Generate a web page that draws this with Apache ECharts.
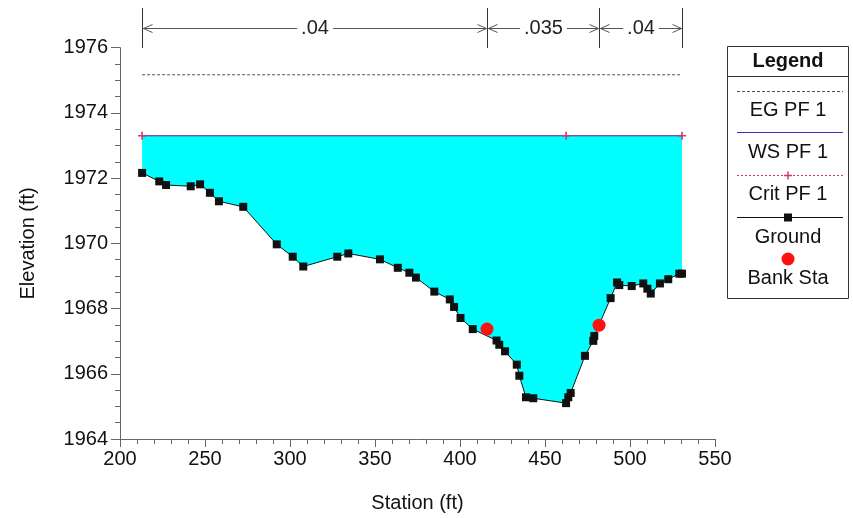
<!DOCTYPE html>
<html><head><meta charset="utf-8">
<script src="https://cdn.jsdelivr.net/npm/echarts@6/dist/echarts.min.js"></script>
<style>html,body{margin:0;padding:0;background:#fff}#c{width:853px;height:518px}</style>
</head><body><div id="c"></div>
<script>
// ---- data ----
const groundStation = [213.0, 223.1, 227.1, 241.6, 247.1, 252.9, 258.2, 272.5, 292.2, 301.6, 307.8, 327.8, 334.3, 352.9, 363.4, 370.2, 374.1, 384.9, 394.0, 396.5, 400.3, 407.5, 421.5, 423.1, 426.5, 433.4, 434.9, 438.8, 443.1, 462.4, 463.7, 465.1, 473.5, 478.4, 479.0, 488.6, 492.4, 493.7, 501.0, 507.8, 510.2, 512.2, 517.6, 522.5, 529.0, 530.6];
const groundElev = [1972.16, 1971.90, 1971.79, 1971.75, 1971.81, 1971.55, 1971.29, 1971.12, 1969.97, 1969.59, 1969.29, 1969.59, 1969.69, 1969.51, 1969.25, 1969.10, 1968.95, 1968.52, 1968.28, 1968.05, 1967.71, 1967.37, 1967.02, 1966.89, 1966.69, 1966.28, 1965.94, 1965.28, 1965.25, 1965.10, 1965.28, 1965.41, 1966.55, 1967.01, 1967.16, 1968.32, 1968.80, 1968.72, 1968.69, 1968.77, 1968.61, 1968.46, 1968.77, 1968.90, 1969.07, 1969.07];
const bankStation = [415.9, 481.8];
const bankElev = [1967.37, 1967.49];
const egStation = [213.0, 530.6];
const egElev = [1975.17, 1975.17];
const wsStation = [213.0, 530.6];
const wsElev = [1973.30, 1973.30];
const critStation = [213.0, 462.4, 530.6];
const critElev = [1973.30, 1973.30, 1973.30];
const nStations = [213.0, 415.9, 481.8, 530.6];
const nValues = ['.04', '.035', '.04'];
const xMin = 200, xMax = 550, xStep = 50;
const yMin = 1964, yMax = 1976, yStep = 2;
const legendNames = ['EG PF 1', 'WS PF 1', 'Crit PF 1', 'Ground', 'Bank Sta'];

const FONT = "'Liberation Sans', Arial, sans-serif";
const pairs = (xs, ys) => xs.map((x, i) => [x, ys[i]]);

const chart = echarts.init(document.getElementById('c'), null, {renderer: 'canvas'});
const plusPath = 'path://M4,0h2v4h4v2h-4v4h-2v-4h-4v-2h4z';
const WS_COL = '#3434b8', CRIT_COL = '#d03a6a', EG_COL = '#3a5f5f';

const option = {
  animation: false,
  backgroundColor: '#fff',
  grid: {left: 120, top: 47.7, right: 138, bottom: 78, containLabel: false},
  xAxis: {
    type: 'value', min: xMin, max: xMax, interval: xStep,
    name: 'Station (ft)', nameLocation: 'middle', nameGap: 54,
    nameTextStyle: {fontFamily: FONT, fontSize: 20, color: '#111'},
    axisLine: {lineStyle: {color: '#666', width: 1}},
    axisTick: {length: 8, lineStyle: {color: '#666'}},
    minorTick: {show: true, splitNumber: 5, length: 5, lineStyle: {color: '#666'}},
    axisLabel: {fontFamily: FONT, fontSize: 20, color: '#111', margin: 10, formatter: v => String(v)},
    splitLine: {show: false}
  },
  yAxis: {
    type: 'value', min: yMin, max: yMax, interval: yStep,
    name: 'Elevation (ft)', nameLocation: 'middle', nameGap: 82,
    nameTextStyle: {fontFamily: FONT, fontSize: 20, color: '#111'},
    axisLine: {show: true, lineStyle: {color: '#666', width: 1}},
    axisTick: {show: true, length: 9, lineStyle: {color: '#666'}},
    minorTick: {show: true, splitNumber: 4, length: 5, lineStyle: {color: '#666'}},
    axisLabel: {fontFamily: FONT, fontSize: 20, color: '#111', margin: 12, formatter: v => String(v)},
    splitLine: {show: false}
  },
  series: [
    {
      name: 'water', type: 'custom', silent: true, z: 1,
      data: pairs(groundStation, groundElev),
      renderItem: function (params, api) {
        if (params.dataIndex !== 0) return null;
        const pts = [];
        for (let i = 0; i < groundStation.length; i++) pts.push(api.coord([groundStation[i], groundElev[i]]));
        pts.push(api.coord([wsStation[1], wsElev[1]]));
        pts.push(api.coord([wsStation[0], wsElev[0]]));
        return {type: 'polygon', shape: {points: pts}, style: {fill: '#00ffff', stroke: null}};
      }
    },
    {
      name: legendNames[0], type: 'line', data: pairs(egStation, egElev), symbol: 'none', z: 3,
      lineStyle: {color: EG_COL, width: 1, type: [3, 2]}
    },
    {
      name: legendNames[1], type: 'line', data: pairs(wsStation, wsElev), symbol: 'none', z: 3,
      lineStyle: {color: WS_COL, width: 1}
    },
    {
      name: legendNames[2], type: 'line', data: pairs(critStation, critElev), z: 4,
      symbol: plusPath, symbolSize: 8, itemStyle: {color: CRIT_COL},
      lineStyle: {color: CRIT_COL, width: 1, type: [2, 2]}
    },
    {
      name: legendNames[3], type: 'line', data: pairs(groundStation, groundElev), z: 5,
      symbol: 'rect', symbolSize: 8, itemStyle: {color: '#111'},
      lineStyle: {color: '#111', width: 1}
    },
    {
      name: legendNames[4], type: 'scatter', data: pairs(bankStation, bankElev), z: 6,
      symbol: 'circle', symbolSize: 13, itemStyle: {color: '#ff1010', opacity: 1}
    }
  ]
};
chart.setOption(option);

// ---- annotation (Manning's n) and legend box ----
const gfx = [];
const px = nStations.map(s => Math.round(chart.convertToPixel({xAxisIndex: 0}, s)) + 0.5);
const yTop = 8, yBot = 48, yArr = 28.5, aCol = '#555';
px.forEach(x => gfx.push({type: 'line', shape: {x1: x, y1: yTop, x2: x, y2: yBot}, style: {stroke: '#333', lineWidth: 1}, z: 10}));
for (let i = 0; i < nValues.length; i++) {
  const a = px[i], b = px[i + 1];
  gfx.push({type: 'line', shape: {x1: a, y1: yArr, x2: b, y2: yArr}, style: {stroke: aCol, lineWidth: 1}, z: 10});
  gfx.push({type: 'polyline', shape: {points: [[a + 10, yArr - 4], [a + 1, yArr], [a + 10, yArr + 4]]}, style: {stroke: aCol, lineWidth: 1, fill: null}, z: 10});
  gfx.push({type: 'polyline', shape: {points: [[b - 10, yArr - 4], [b - 1, yArr], [b - 10, yArr + 4]]}, style: {stroke: aCol, lineWidth: 1, fill: null}, z: 10});
  gfx.push({type: 'text', x: (a + b) / 2, y: yArr, z: 11,
    style: {text: nValues[i], font: '20px ' + FONT, fill: '#222', align: 'center', verticalAlign: 'middle', backgroundColor: '#fff', padding: [0, 4]}});
}
// legend box
const LX = 727.5, LY = 46.5, LW = 121, LH = 252, cx = LX + LW / 2;
gfx.push({type: 'rect', shape: {x: LX, y: LY, width: LW, height: LH}, style: {fill: '#fff', stroke: '#333', lineWidth: 1}, z: 10});
gfx.push({type: 'line', shape: {x1: LX, y1: 76.5, x2: LX + LW, y2: 76.5}, style: {stroke: '#333', lineWidth: 1}, z: 11});
gfx.push({type: 'text', x: cx, y: 61, z: 11, style: {text: 'Legend', font: 'bold 20px ' + FONT, fill: '#111', align: 'center', verticalAlign: 'middle'}});
const sx1 = 737, sx2 = 843;
const entries = [
  {lineY: 91.5, textY: 110, stroke: EG_COL, dash: [3, 2]},
  {lineY: 132.5, textY: 152, stroke: WS_COL, dash: null},
  {lineY: 175.5, textY: 194, stroke: CRIT_COL, dash: [2, 2], sym: 'plus'},
  {lineY: 217.5, textY: 237, stroke: '#111', dash: null, sym: 'rect'},
  {lineY: null, textY: 278, sym: 'circle', symY: 259}
];
entries.forEach((e, i) => {
  if (e.lineY !== null) gfx.push({type: 'line', shape: {x1: sx1, y1: e.lineY, x2: sx2, y2: e.lineY}, style: {stroke: e.stroke, lineWidth: 1, lineDash: e.dash}, z: 11});
  if (e.sym === 'plus') {
    gfx.push({type: 'line', shape: {x1: cx - 4, y1: e.lineY, x2: cx + 4, y2: e.lineY}, style: {stroke: e.stroke, lineWidth: 1.5}, z: 12});
    gfx.push({type: 'line', shape: {x1: cx, y1: e.lineY - 4, x2: cx, y2: e.lineY + 4}, style: {stroke: e.stroke, lineWidth: 1.5}, z: 12});
  } else if (e.sym === 'rect') {
    gfx.push({type: 'rect', shape: {x: cx - 4, y: e.lineY - 4, width: 8, height: 8}, style: {fill: '#111'}, z: 12});
  } else if (e.sym === 'circle') {
    gfx.push({type: 'circle', shape: {cx: cx, cy: e.symY, r: 6.5}, style: {fill: '#ff1010'}, z: 12});
  }
  gfx.push({type: 'text', x: cx, y: e.textY, z: 11, style: {text: legendNames[i], font: '20px ' + FONT, fill: '#111', align: 'center', verticalAlign: 'middle'}});
});
chart.setOption({graphic: gfx});
</script>
</body></html>
